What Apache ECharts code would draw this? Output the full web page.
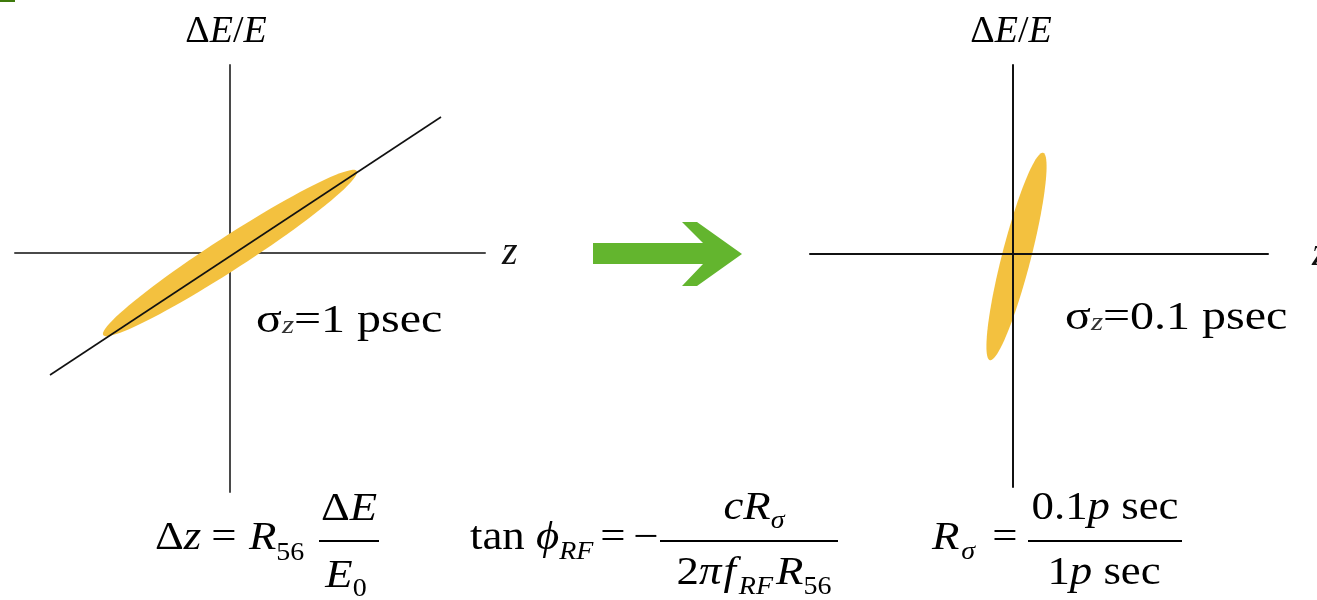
<!DOCTYPE html>
<html>
<head>
<meta charset="utf-8">
<title>Bunch compression</title>
<script src="https://cdn.jsdelivr.net/npm/echarts@6/dist/echarts.min.js"></script>
<style>
  html, body { margin: 0; padding: 0; background: #fff; }
  #chart { width: 1317px; height: 600px; }
</style>
</head>
<body>
<div id="chart"></div>
<script>
// Longitudinal phase space before and after compression (units: arbitrary, 1 unit = 50 px)
const leftXRange = [-4.3, 5.1];
const leftYRange = [-4.78, 3.76];
const rightXRange = [-4.06, 5.1];
const rightYRange = [-4.66, 3.78];

// energy chirp line through the bunch: [z, dE/E]
const chirpLine = [[-3.6, -2.44], [4.22, 2.72]];

// bunch ellipses: [centre z, centre dE/E, semi-major, semi-minor, tilt in degrees]
const bunchBefore = [0, 0, 3.02, 0.33, 32.9];
const bunchAfter = [0.07, -0.05, 2.14, 0.29, 75.6];

const axisNameX = 'z';
const sigmaBefore = ['σ', 'z', '=1 psec'];
const sigmaAfter = ['σ', 'z', '=0.1 psec'];

const SERIF = '"Liberation Serif", "Times New Roman", "DejaVu Serif", serif';
const INK = '#000';
const BUNCH = '#f3c13f';
const FS = 40;      // formula font size
const SUB = 25;     // subscript font size
const SX = 1.12;    // horizontal stretch of the formula type

const measureCtx = document.createElement('canvas').getContext('2d');
function textWidth(t, size, italic) {
  measureCtx.font = (italic ? 'italic ' : '') + size + 'px ' + SERIF;
  return measureCtx.measureText(t).width;
}

// one text piece placed by its baseline
function txt(x, base, t, size, italic, align, fill, sx) {
  return {
    type: 'text', x: x, y: base - 0.33 * size, scaleX: sx || 1, silent: true,
    style: {
      text: t, fontSize: size, fontFamily: SERIF,
      fontStyle: italic ? 'italic' : 'normal',
      fill: fill || INK,
      align: align || 'left', verticalAlign: 'middle',
      textAlign: align || 'left', textVerticalAlign: 'middle'
    }
  };
}

// a run of pieces [text, size, italic, baselineShift, fill, gapBefore] laid out left to right
function run(x, base, pieces, centred, sx) {
  sx = sx || 1;
  const widths = pieces.map(p => textWidth(p[0], p[1], p[2]) * sx + (p[5] || 0));
  const total = widths.reduce((a, b) => a + b, 0);
  let cx = centred ? x - total / 2 : x;
  return pieces.map((p, i) => {
    const el = txt(cx + (p[5] || 0), base + (p[3] || 0), p[0], p[1], p[2], 'left', p[4], sx);
    cx += widths[i];
    return el;
  });
}

function bar(x1, x2, y) {
  return {
    type: 'line', silent: true,
    shape: { x1: x1, y1: y, x2: x2, y2: y },
    style: { stroke: INK, lineWidth: 1.8 }
  };
}

function ellipseItem(params, api) {
  const cx = api.value(0), cy = api.value(1);
  const a = api.value(2), b = api.value(3);
  const t = api.value(4) * Math.PI / 180;
  const pts = [];
  for (let k = 0; k < 96; k++) {
    const s = k / 96 * Math.PI * 2;
    const x = cx + a * Math.cos(t) * Math.cos(s) - b * Math.sin(t) * Math.sin(s);
    const y = cy + a * Math.sin(t) * Math.cos(s) + b * Math.cos(t) * Math.sin(s);
    pts.push(api.coord([x, y]));
  }
  return { type: 'polygon', shape: { points: pts }, style: { fill: BUNCH } };
}

function valueAxis(grid, range, color, z, extra) {
  return Object.assign({
    gridIndex: grid, type: 'value', min: range[0], max: range[1], z: z,
    axisLine: { onZero: true, lineStyle: { color: color, width: 2 } },
    axisTick: { show: false }, axisLabel: { show: false }, splitLine: { show: false }
  }, extra);
}

function yName(shiftLeft) {
  return {
    name: '{u|Δ}{i|E}{u|/}{i|E}',
    nameLocation: 'end', nameGap: 14,
    nameTextStyle: {
      align: 'center', verticalAlign: 'bottom',
      padding: [0, shiftLeft * 2, 0, 0],
      rich: {
        u: { fontFamily: SERIF, fontSize: 38, color: INK },
        i: { fontFamily: SERIF, fontSize: 38, fontStyle: 'italic', color: INK }
      }
    }
  };
}
function xName(gap) {
  return {
    name: axisNameX, nameLocation: 'end', nameGap: gap,
    nameTextStyle: { fontFamily: SERIF, fontSize: 40, fontStyle: 'italic', color: '#111', verticalAlign: 'middle', align: 'left', padding: [6, 0, 0, 0] }
  };
}

const graphics = [];
// corner tab
graphics.push({ type: 'rect', silent: true, shape: { x: 0, y: 0, width: 15, height: 2 }, style: { fill: '#3f7a0c' } });
// compression arrow
graphics.push({
  type: 'polygon', silent: true,
  shape: { points: [[593, 243], [703, 243], [682, 222], [697, 222], [742, 254], [697, 286], [682, 286], [703, 264], [593, 264]] },
  style: { fill: '#63b52e' }
});
// bunch length labels
graphics.push({
  type: 'group', x: 256, y: 0, scaleX: 1.2,
  children: run(0, 335, [[sigmaBefore[0], 40, false], [sigmaBefore[1], 26, true, 0, '#333'], [sigmaBefore[2], 40, false]])
});
graphics.push({
  type: 'group', x: 1065, y: 0, scaleX: 1.2,
  children: run(0, 332, [[sigmaAfter[0], 40, false], [sigmaAfter[1], 26, true, 0, '#333'], [sigmaAfter[2], 40, false]])
});

function add(list) { list.forEach(e => graphics.push(e)); }

// Δz = R56 ΔE / E0
add(run(155, 552, [['Δ', FS, false], ['z', FS, true]], false, SX));
graphics.push(txt(224, 552, '=', FS, false, 'center', INK, SX));
add(run(249, 552, [['R', FS, true], ['56', SUB, false, 10]], false, SX));
add(run(349, 523, [['Δ', FS, false], ['E', FS, true]], true, SX));
graphics.push(bar(319, 379, 541));
add(run(346, 590, [['E', FS, true], ['0', SUB, false, 8]], true, SX));

// tan φRF = − c Rσ / (2π fRF R56)
add(run(470, 552, [['tan', FS, false]], false, SX));
add(run(536, 552, [['ϕ', FS, true], ['RF', SUB, true, 9]], false, SX));
graphics.push(txt(613, 552, '=', FS, false, 'center', INK, SX));
graphics.push(txt(646, 552, '−', FS, false, 'center', INK, SX));
graphics.push(bar(660, 838, 541));
add(run(754, 522, [['c', FS, true], ['R', FS, true], ['σ', SUB, true, 8]], true, SX));
add(run(754, 587, [['2', FS, false], ['π', FS, true], ['f', FS, true, 0, INK, 2], ['RF', SUB, true, 9, INK, 3], ['R', FS, true, 0, INK, 3], ['56', SUB, false, 9]], true, SX));

// Rσ = 0.1 p sec / 1 p sec
add(run(932, 552, [['R', FS, true], ['σ', SUB, true, 9, INK, 2]], false, SX));
graphics.push(txt(1005, 552, '=', FS, false, 'center', INK, SX));
graphics.push(bar(1028, 1182, 541));
add(run(1105, 522, [['0.1', FS, false], ['p', FS, true], [' sec', FS, false]], true, SX));
add(run(1104, 587, [['1', FS, false], ['p', FS, true], [' sec', FS, false]], true, SX));

const chart = echarts.init(document.getElementById('chart'), null, { renderer: 'canvas' });
chart.setOption({
  animation: false,
  backgroundColor: '#fff',
  grid: [
    { left: 15, top: 65, width: 470, height: 427, outerBoundsMode: 'none', containLabel: false },
    { left: 810, top: 65, width: 458, height: 422, outerBoundsMode: 'none', containLabel: false }
  ],
  xAxis: [
    valueAxis(0, leftXRange, '#4a4a4a', 0, xName(17)),
    valueAxis(1, rightXRange, '#111', 5, xName(44))
  ],
  yAxis: [
    valueAxis(0, leftYRange, '#4a4a4a', 0, yName(4)),
    valueAxis(1, rightYRange, '#111', 5, yName(2))
  ],
  series: [
    { type: 'custom', name: 'bunch before', xAxisIndex: 0, yAxisIndex: 0, data: [bunchBefore], renderItem: ellipseItem, z: 2, silent: true },
    { type: 'line', name: 'chirp', xAxisIndex: 0, yAxisIndex: 0, data: chirpLine, symbol: 'none', lineStyle: { color: '#111', width: 1.6 }, z: 3, silent: true },
    { type: 'custom', name: 'bunch after', xAxisIndex: 1, yAxisIndex: 1, data: [bunchAfter], renderItem: ellipseItem, z: 2, silent: true }
  ],
  graphic: graphics
});
</script>
</body>
</html>
